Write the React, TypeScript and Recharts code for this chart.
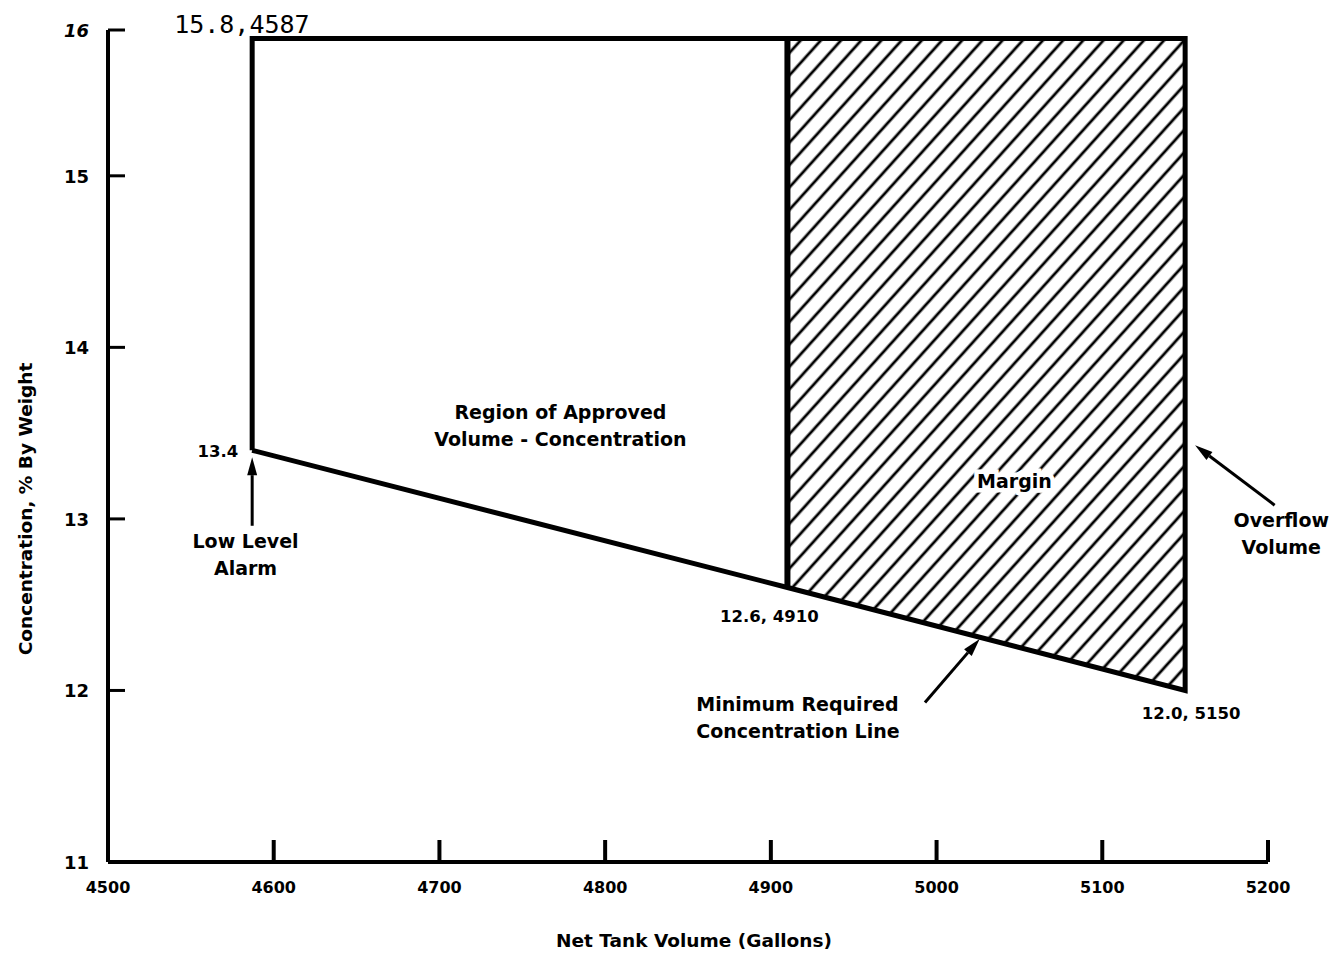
import React from 'react';
import { ComposedChart, Line, Area, XAxis, YAxis, ReferenceDot, ReferenceLine } from 'recharts';

// boundary of the approved region (walked round as one outline)
const boundaryVolume = [4587, 4587, 5150, 5150, 4910, 4587];
const boundaryConc = [13.4, 15.8, 15.8, 12.0, 12.6, 13.4];

// line at the start of the margin
const marginEdgeVolume = [4910, 4910];
const marginEdgeConc = [12.6, 15.8];

// hatched margin band
const marginVolume = [4910, 5150];
const marginLow = [12.6, 12.0];
const marginHigh = [15.8, 15.8];

const volMin = 4500;
const volMax = 5200;
const concMin = 11;
const concTop = 15.85;
const xTicks = [4500, 4600, 4700, 4800, 4900, 5000, 5100, 5200];
const yTicks = [11, 12, 13, 14, 15, concTop];

const FONT = '"DejaVu Sans", Verdana, sans-serif';
const MONO = '"DejaVu Sans Mono", "Liberation Mono", monospace';

const boundaryData = boundaryVolume.map((v, i) => ({ vol: v, conc: boundaryConc[i] }));
const edgeData = marginEdgeVolume.map((v, i) => ({ vol: v, conc: marginEdgeConc[i] }));
const marginData = marginVolume.map((v, i) => ({ vol: v, low: marginLow[i], high: marginHigh[i] }));

const XTick = (props: any) => {
  const { x, y, payload } = props;
  const v = payload.value;
  return (
    <g>
      {v !== volMin && <line x1={x} x2={x} y1={y} y2={y - 22} stroke="#000" strokeWidth={4} />}
      <text x={x} y={y + 31} textAnchor="middle" fontFamily={FONT} fontWeight={700} fontSize={16} fill="#000">
        {v}
      </text>
    </g>
  );
};

const YTick = (props: any) => {
  const { x, y, payload } = props;
  const v = payload.value;
  const top = v === concTop;
  return (
    <g>
      {v !== concMin && <line x1={x} x2={x + 17} y1={y} y2={y} stroke="#000" strokeWidth={3} />}
      <text
        x={x - 19}
        y={y + 7}
        textAnchor="end"
        fontFamily={FONT}
        fontWeight={700}
        fontStyle={top ? 'italic' : 'normal'}
        fontSize={18}
        fill="#000"
      >
        {top ? '16' : v}
      </text>
    </g>
  );
};

// text placed at a data point, with a pixel nudge
const note = (lines: string[], dx: number, dy: number, anchor: string, size = 19, family = FONT, weight = 700, halo = false) =>
  (p: any) => (
    <text
      x={p.cx + dx}
      y={p.cy + dy}
      textAnchor={anchor}
      fontFamily={family}
      fontWeight={weight}
      fontSize={size}
      fill="#000"
      stroke={halo ? '#fff' : 'none'}
      strokeWidth={halo ? 9 : 0}
      paintOrder="stroke"
    >
      {lines.map((t, i) => (
        <tspan key={i} x={p.cx + dx} dy={i === 0 ? 0 : 27}>
          {t}
        </tspan>
      ))}
    </text>
  );

const Arrow = (p: any) => {
  const { x1, y1, x2, y2 } = p;
  const ang = Math.atan2(y2 - y1, x2 - x1);
  const len = 18;
  const w = 5;
  const bx = x2 - len * Math.cos(ang);
  const by = y2 - len * Math.sin(ang);
  const nx = -Math.sin(ang) * w;
  const ny = Math.cos(ang) * w;
  return (
    <g>
      <line x1={x1} y1={y1} x2={bx} y2={by} stroke="#000" strokeWidth={3} />
      <polygon points={`${x2},${y2} ${bx + nx},${by + ny} ${bx - nx},${by - ny}`} fill="#000" />
    </g>
  );
};

export default function App() {
  return (
    <div style={{ position: 'absolute', left: 0, top: 0, width: 1340, height: 958, background: '#fff', fontFamily: FONT }}>
      <svg width={0} height={0} style={{ position: 'absolute' }}>
        <defs>
          <pattern id="hatch" patternUnits="userSpaceOnUse" width={15} height={15} patternTransform="rotate(42)">
            <line x1={7} y1={0} x2={7} y2={15} stroke="#000" strokeWidth={2.8} />
          </pattern>
        </defs>
      </svg>
      <ComposedChart width={1340} height={958} margin={{ top: 30, right: 72, bottom: 56, left: 48 }}>
        <XAxis
          type="number"
          dataKey="vol"
          domain={[volMin, volMax]}
          ticks={xTicks}
          interval={0}
          allowDataOverflow
          height={40}
          tickSize={0}
          tickMargin={0}
          tickLine={false}
          axisLine={{ stroke: '#000', strokeWidth: 4 }}
          tick={<XTick />}
          label={{
            content: (p: any) => (
              <text
                x={p.viewBox.x + p.viewBox.width / 2 + 6}
                y={947}
                textAnchor="middle"
                fontFamily={FONT}
                fontWeight={700}
                fontSize={18.5}
              >
                Net Tank Volume (Gallons)
              </text>
            ),
          }}
        />
        <YAxis
          type="number"
          domain={[concMin, concTop]}
          ticks={yTicks}
          interval={0}
          allowDataOverflow
          width={60}
          tickSize={0}
          tickMargin={0}
          tickLine={false}
          axisLine={{ stroke: '#000', strokeWidth: 4 }}
          tick={<YTick />}
          label={{
            content: (p: any) => {
              const cx = 32;
              const cy = p.viewBox.y + p.viewBox.height / 2 + 63;
              return (
                <text
                  x={cx}
                  y={cy}
                  transform={`rotate(-90 ${cx} ${cy})`}
                  textAnchor="middle"
                  fontFamily={FONT}
                  fontWeight={700}
                  fontSize={18.5}
                >
                  Concentration, % By Weight
                </text>
              );
            },
          }}
        />
        <Area
          data={marginData}
          dataKey={(d: any) => [d.low, d.high]}
          type="linear"
          stroke="none"
          fill="url(#hatch)"
          fillOpacity={1}
          isAnimationActive={false}
          activeDot={false}
        />
        <Line
          data={boundaryData}
          dataKey="conc"
          type="linear"
          stroke="#000"
          strokeWidth={5}
          strokeLinejoin="miter"
          dot={false}
          activeDot={false}
          isAnimationActive={false}
        />
        <Line
          data={edgeData}
          dataKey="conc"
          type="linear"
          stroke="#000"
          strokeWidth={6}
          dot={false}
          activeDot={false}
          isAnimationActive={false}
        />

        {/* arrows */}
        <ReferenceLine segment={[{ x: 4587, y: 12.96 }, { x: 4587, y: 13.36 }]} ifOverflow="visible" shape={Arrow} />
        <ReferenceLine segment={[{ x: 4993, y: 11.93 }, { x: 5026, y: 12.3 }]} ifOverflow="visible" shape={Arrow} />
        <ReferenceLine segment={[{ x: 5204, y: 13.08 }, { x: 5156, y: 13.43 }]} ifOverflow="visible" shape={Arrow} />

        {/* point labels */}
        <ReferenceDot x={4587} y={15.8} r={0} ifOverflow="visible"
          shape={note(['15.8,4587'], -78, -6, 'start', 25, MONO, 400)} />
        <ReferenceDot x={4587} y={13.4} r={0} ifOverflow="visible" shape={note(['13.4'], -14, 7, 'end', 16.5)} />
        <ReferenceDot x={4910} y={12.6} r={0} ifOverflow="visible" shape={note(['12.6, 4910'], -18, 34, 'middle', 16.5)} />
        <ReferenceDot x={5150} y={12.0} r={0} ifOverflow="visible" shape={note(['12.0, 5150'], 6, 29, 'middle', 16.5)} />

        {/* region labels */}
        <ReferenceDot x={4773} y={13.58} r={0} ifOverflow="visible"
          shape={note(['Region of Approved', 'Volume - Concentration'], 0, 0, 'middle')} />
        <ReferenceDot x={5047} y={13.18} r={0} ifOverflow="visible"
          shape={note(['Margin'], 0, 0, 'middle', 19, FONT, 700, true)} />
        <ReferenceDot x={4583} y={12.83} r={0} ifOverflow="visible" shape={note(['Low Level', 'Alarm'], 0, 0, 'middle')} />
        <ReferenceDot x={4855} y={11.88} r={0} ifOverflow="visible"
          shape={note(['Minimum Required', 'Concentration Line'], 0, 0, 'start')} />
        <ReferenceDot x={5208} y={12.95} r={0} ifOverflow="visible" shape={note(['Overflow', 'Volume'], 0, 0, 'middle')} />
      </ComposedChart>
    </div>
  );
}
